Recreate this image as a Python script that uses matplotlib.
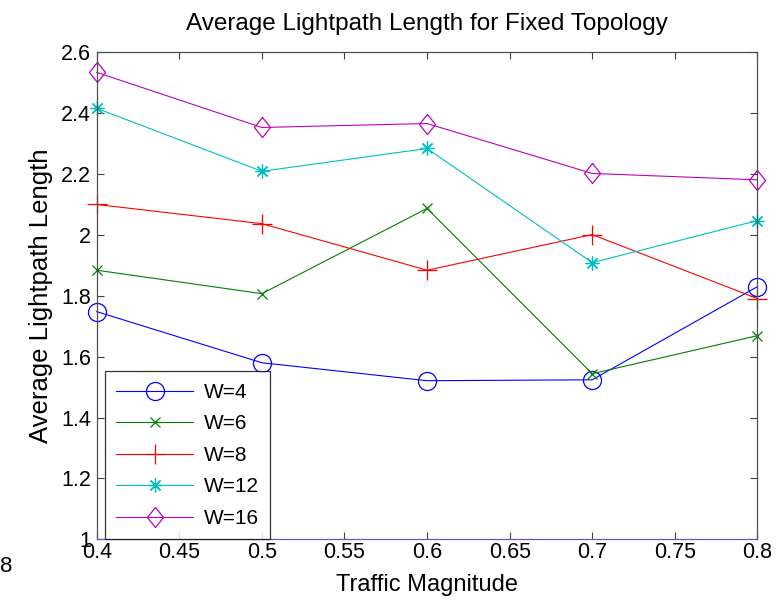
import matplotlib
matplotlib.use("Agg")
import matplotlib.pyplot as plt

# data
traffic = [0.4, 0.5, 0.6, 0.7, 0.8]
w4 = [1.748, 1.580, 1.521, 1.524, 1.830]
w6 = [1.884, 1.807, 2.087, 1.544, 1.669]
w8 = [2.100, 2.037, 1.884, 2.001, 1.791]
w12 = [2.416, 2.209, 2.284, 1.909, 2.047]
w16 = [2.534, 2.353, 2.366, 2.202, 2.181]
labels = ["W=4", "W=6", "W=8", "W=12", "W=16"]
xticks = [0.4, 0.45, 0.5, 0.55, 0.6, 0.65, 0.7, 0.75, 0.8]
yticks = [1, 1.2, 1.4, 1.6, 1.8, 2, 2.2, 2.4, 2.6]

plt.rcParams["font.family"] = ["Liberation Sans", "DejaVu Sans"]

fig = plt.figure(figsize=(7.8, 6.08), dpi=100)
ax = fig.add_axes([0.124, 0.113, 0.847, 0.801])

# matlab-ish markers
diamond = [(0, 1), (0.8, 0), (0, -1), (-0.8, 0), (0, 1)]
styles = [
    dict(color="#0000ff", marker="o", markersize=13, markerfacecolor="none"),
    dict(color="#008000", marker="x", markersize=7),
    dict(color="#ff0000", marker="+", markersize=14),
    dict(color="#00bfbf", marker=(8, 2, 0), markersize=10),
    dict(color="#bf00bf", marker=diamond, markersize=14.5, markerfacecolor="none"),
]
for ys, lab, st in zip([w4, w6, w8, w12, w16], labels, styles):
    ax.plot(traffic, ys, label=lab, linewidth=0.8, markeredgewidth=0.9,
            clip_on=False, **st)

ax.set_xlim(0.4, 0.8)
ax.set_ylim(1, 2.6)
ax.set_xticks(xticks)
ax.set_xticklabels([f"{v:g}" for v in xticks])
ax.set_yticks(yticks)
ax.set_yticklabels([f"{v:g}" for v in yticks])
ax.tick_params(direction="in", top=True, right=True, length=5, width=0.8,
               labelsize=15.5, color="#404040")
ax.tick_params(axis="x", pad=2)
ax.tick_params(axis="y", pad=4)
for s in ax.spines.values():
    s.set_color("#505050")
    s.set_linewidth(0.9)
ax.spines["bottom"].set_color("#5a5ac8")

ax.set_title("Average Lightpath Length for Fixed Topology", fontsize=17.5, pad=16)
ax.set_xlabel("Traffic Magnitude", fontsize=17, labelpad=8)
ax.set_ylabel("Average Lightpath Length", fontsize=18.5, labelpad=6)

leg = ax.legend(loc="lower left", bbox_to_anchor=(8 / 660, 0.0), fontsize=15,
                frameon=True, fancybox=False, edgecolor="black", borderaxespad=0,
                handlelength=3.7, labelspacing=0.6, borderpad=0.55,
                handletextpad=0.5)
leg.get_frame().set_linewidth(0.9)

fig.text(0.0, 0.06, "8", fontsize=16)

fig.savefig("out.png", dpi=100)
